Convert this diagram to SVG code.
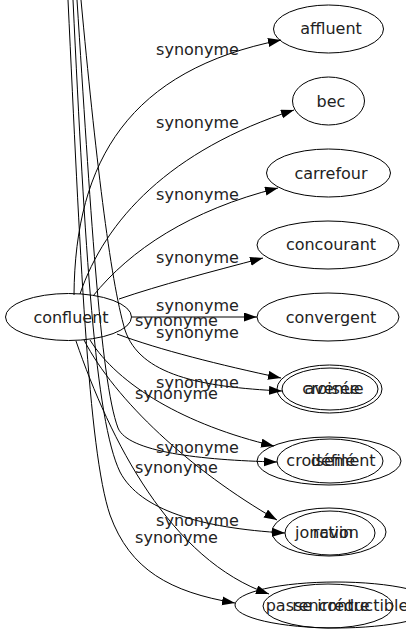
<svg xmlns="http://www.w3.org/2000/svg" width="406" height="635" viewBox="0 0 406 635">
<style>
.n ellipse{fill:none;stroke:#000;stroke-width:1}
text{font-family:"DejaVu Sans",Verdana,sans-serif;font-size:16px;fill:#222;text-anchor:middle}
.e path{fill:none;stroke:#000;stroke-width:1;marker-end:url(#ah)}
</style>
<defs>
<marker id="ah" markerUnits="userSpaceOnUse" markerWidth="14" markerHeight="10" refX="13" refY="4.5" orient="auto">
<path d="M0,0 L13,4.5 L0,9 z" fill="#000"/>
</marker>
</defs>
<rect width="406" height="635" fill="#fff"/>
<g id="connectors" class="e">
<path d="M74,295 C75,160 130,70 281,40"/>
<path d="M80,294 C105,220 170,150 294,110"/>
<path d="M93,296 C130,250 190,210 278,188"/>
<path d="M119,299 C160,285 210,272 263,258"/>
<path d="M132,317 L257,317"/>
<path d="M117,334 C160,350 220,365 281,378"/>
<path d="M90,340 C118,385 185,425 274,446"/>
<path d="M84,340 C115,400 190,470 277,520"/>
<path d="M76,341 C110,440 170,560 269,594"/>
<path d="M81,0 C95,150 110,280 125,330 C140,375 200,387 282,391"/>
<path d="M77,0 C90,200 100,380 118,428 C128,452 200,460 277,462"/>
<path d="M73,0 C85,250 95,420 120,472 C140,510 200,528 285,533"/>
<path d="M68,0 C80,250 88,450 110,515 C130,570 170,592 235,603"/>
<text x="197.5" y="55">synonyme</text>
<text x="197.5" y="128">synonyme</text>
<text x="197.5" y="200">synonyme</text>
<text x="197.5" y="263">synonyme</text>
<text x="197.5" y="311">synonyme</text>
<text x="197.5" y="338">synonyme</text>
<text x="197.5" y="388">synonyme</text>
<text x="197.5" y="453">synonyme</text>
<text x="197.5" y="526">synonyme</text>
<text x="176.5" y="326">synonyme</text>
<text x="176.5" y="399">synonyme</text>
<text x="176.5" y="473">synonyme</text>
<text x="176.5" y="543">synonyme</text>
</g>
<g id="confluent" class="n"><ellipse cx="68.5" cy="317" rx="63" ry="23.5"/><text x="71" y="323">confluent</text></g>
<g id="affluent" class="n"><ellipse cx="328.5" cy="29" rx="55" ry="24"/><text x="331" y="34">affluent</text></g>
<g id="bec" class="n"><ellipse cx="328.5" cy="101" rx="36" ry="24"/><text x="331" y="107">bec</text></g>
<g id="carrefour" class="n"><ellipse cx="328.5" cy="173" rx="62" ry="24"/><text x="331" y="179">carrefour</text></g>
<g id="concourant" class="n"><ellipse cx="328" cy="245" rx="71" ry="24"/><text x="331" y="250">concourant</text></g>
<g id="convergent" class="n"><ellipse cx="328" cy="317" rx="71" ry="24"/><text x="331" y="323">convergent</text></g>
<g id="croisee" class="n"><ellipse cx="329.5" cy="389" rx="52.5" ry="24"/><text x="331" y="394">croisée</text></g>
<g id="avenue" class="n"><ellipse cx="330" cy="389" rx="48" ry="21"/><text x="334" y="394">avenue</text></g>
<g id="croisement" class="n"><ellipse cx="329" cy="461" rx="72" ry="24"/><text x="331" y="466">croisement</text></g>
<g id="defile" class="n"><ellipse cx="330" cy="461" rx="53" ry="22"/><text x="333" y="466">défilé</text></g>
<g id="jonction" class="n"><ellipse cx="329" cy="532" rx="57" ry="24"/><text x="327" y="538">jonction</text></g>
<g id="ravin" class="n"><ellipse cx="330" cy="533" rx="45" ry="22"/><text x="333" y="538">ravin</text></g>
<g id="rencontre" class="n"><ellipse cx="328" cy="606" rx="65" ry="22"/><text x="331" y="611">rencontre</text></g>
<g id="passe" class="n"><ellipse cx="336" cy="605" rx="101" ry="23"/><text x="337" y="611">passe irréductible</text></g>
</svg>
